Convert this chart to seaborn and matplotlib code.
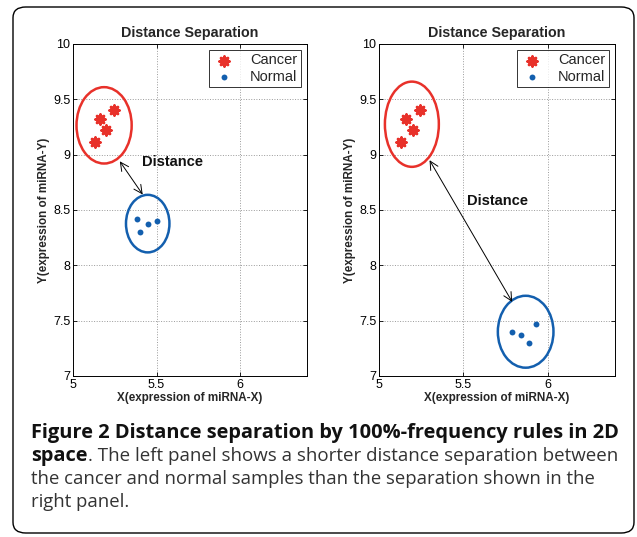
import numpy as np
import pandas as pd
import matplotlib
matplotlib.use("Agg")
import matplotlib.pyplot as plt
from matplotlib.patches import Ellipse, FancyBboxPatch
import seaborn as sns

# ---------------- data ----------------
cancer_x = [5.13, 5.16, 5.20, 5.245]
cancer_y = [9.11, 9.32, 9.22, 9.40]

normal_left_x = [5.385, 5.40, 5.45, 5.50]
normal_left_y = [8.42, 8.30, 8.37, 8.40]

normal_right_x = [5.79, 5.84, 5.89, 5.93]
normal_right_y = [7.40, 7.37, 7.30, 7.47]

# ellipses: (cx, cy, width, height)
ell_left_cancer = (5.186, 9.265, 0.33, 0.69)
ell_left_normal = (5.447, 8.377, 0.26, 0.52)
ell_right_cancer = (5.195, 9.275, 0.32, 0.77)
ell_right_normal = (5.87, 7.40, 0.33, 0.65)

# arrows: (x_start, y_start, x_end, y_end), label position
arrow_left = (5.28, 8.94, 5.417, 8.64)
label_left = (5.41, 8.93)
arrow_right = (5.30, 8.95, 5.79, 7.67)
label_right = (5.52, 8.58)

x_ticks = [5, 5.5, 6]
y_ticks = [7, 7.5, 8, 8.5, 9, 9.5, 10]
x_tick_labels = ["5", "5.5", "6"]
y_tick_labels = ["7", "7.5", "8", "8.5", "9", "9.5", "10"]

title = "Distance Separation"
xlabel = "X(expression of miRNA-X)"
ylabel = "Y(expression of miRNA-Y)"

caption_bold_1 = "Figure 2 Distance separation by 100%-frequency rules in 2D"
caption_bold_2 = "space"
caption_rest_2 = ". The left panel shows a shorter distance separation between"
caption_line_3 = "the cancer and normal samples than the separation shown in the"
caption_line_4 = "right panel."

RED = "#e8312a"
BLUE = "#135fae"

sns.set_theme(style="white")
plt.rcParams["font.family"] = ["Liberation Sans", "DejaVu Sans"]

fig = plt.figure(figsize=(6.37, 5.37), dpi=100)

# outer rounded box
box = FancyBboxPatch((13 / 637, 4 / 537), 621 / 637, 526 / 537,
                     boxstyle="round,pad=0,rounding_size=0.02",
                     transform=fig.transFigure, fill=False, edgecolor="black",
                     linewidth=1.0)
fig.patches.append(box)

ax_l = fig.add_axes([73 / 637, 1 - 376 / 537, 234 / 637, 332 / 537])
ax_r = fig.add_axes([379 / 637, 1 - 376 / 537, 236 / 637, 332 / 537])


def draw_panel(ax, nx, ny, ell_c, ell_n, arrow, label):
    dc = pd.DataFrame({"x": cancer_x, "y": cancer_y})
    dn = pd.DataFrame({"x": nx, "y": ny})
    sns.scatterplot(data=dc, x="x", y="y", ax=ax, marker=(8, 2, 0), s=48,
                    color=RED, edgecolor=RED, linewidth=2.0, label="Cancer",
                    zorder=3)
    sns.scatterplot(data=dn, x="x", y="y", ax=ax, marker="o", s=18,
                    color=BLUE, edgecolor=BLUE, linewidth=0, label="Normal",
                    zorder=3)
    for (cx, cy, w, h), col in ((ell_c, RED), (ell_n, BLUE)):
        ax.add_patch(Ellipse((cx, cy), w, h, fill=False, edgecolor=col,
                             linewidth=1.8, zorder=2))
    ax.annotate("", xy=(arrow[2], arrow[3]), xytext=(arrow[0], arrow[1]),
                arrowprops=dict(arrowstyle="<->,head_length=0.5,head_width=0.25",
                                color="black", lw=0.7,
                                shrinkA=0, shrinkB=0))
    ax.text(label[0], label[1], "Distance", fontsize=10.5, fontweight="bold",
            ha="left", va="center", color="#111111")
    ax.set_xlim(5, 6.4)
    ax.set_ylim(7, 10)
    ax.set_xticks(x_ticks)
    ax.set_xticklabels(x_tick_labels)
    ax.set_yticks(y_ticks)
    ax.set_yticklabels(y_tick_labels)
    ax.grid(True, linestyle=":", color="#9a9a9a", linewidth=0.7)
    ax.tick_params(direction="in", length=3, width=0.6, labelsize=9,
                   top=True, right=True, bottom=True, left=True, pad=2,
                   colors="black")
    for sp in ax.spines.values():
        sp.set_visible(True)
        sp.set_color("black")
        sp.set_linewidth(0.7)
    ax.set_title(title, fontsize=10.3, fontweight="bold", pad=5)
    ax.set_xlabel(xlabel, fontsize=8.4, fontweight="bold", labelpad=1)
    ax.set_ylabel(ylabel, fontsize=8.4, fontweight="bold", labelpad=2)
    leg = ax.legend(loc="upper right", fontsize=10.5, frameon=True,
                    fancybox=False, borderaxespad=0.4, handletextpad=1.0,
                    labelspacing=0.15, borderpad=0.25, handlelength=1.6)
    leg.get_frame().set_edgecolor("black")
    leg.get_frame().set_linewidth(0.7)


draw_panel(ax_l, normal_left_x, normal_left_y, ell_left_cancer,
           ell_left_normal, arrow_left, label_left)
draw_panel(ax_r, normal_right_x, normal_right_y, ell_right_cancer,
           ell_right_normal, arrow_right, label_right)

# caption
cap_font = ["Open Sans", "DejaVu Sans"]
renderer = fig.canvas.get_renderer()
x0 = 31 / 637


def fitted(text, target, bold):
    t = fig.text(0, 0, text, fontsize=12, family=cap_font,
                 fontweight="bold" if bold else "normal")
    w = t.get_window_extent(renderer).width
    t.remove()
    return 12 * target / w


fs_bold = fitted(caption_bold_1, 587, True)
fs_norm = fitted(caption_line_3, 562, False)

fig.text(x0, 1 - 438 / 537, caption_bold_1, fontsize=fs_bold,
         fontweight="bold", family=cap_font, va="baseline", ha="left",
         color="#111111")
t2 = fig.text(x0, 1 - 461 / 537, caption_bold_2, fontsize=fs_bold,
              fontweight="bold", family=cap_font, va="baseline", ha="left",
              color="#111111")
w2 = t2.get_window_extent(renderer).width
fs_rest = fitted(caption_rest_2, 615 - 31 - w2, False)
fig.text(x0 + w2 / 637, 1 - 461 / 537, caption_rest_2, fontsize=fs_rest,
         family=cap_font, va="baseline", ha="left", color="#333333")
fig.text(x0, 1 - 484 / 537, caption_line_3, fontsize=fs_norm, family=cap_font,
         va="baseline", ha="left", color="#333333")
fig.text(x0, 1 - 507 / 537, caption_line_4, fontsize=fs_norm, family=cap_font,
         va="baseline", ha="left", color="#333333")

fig.savefig("out.png", dpi=100)
